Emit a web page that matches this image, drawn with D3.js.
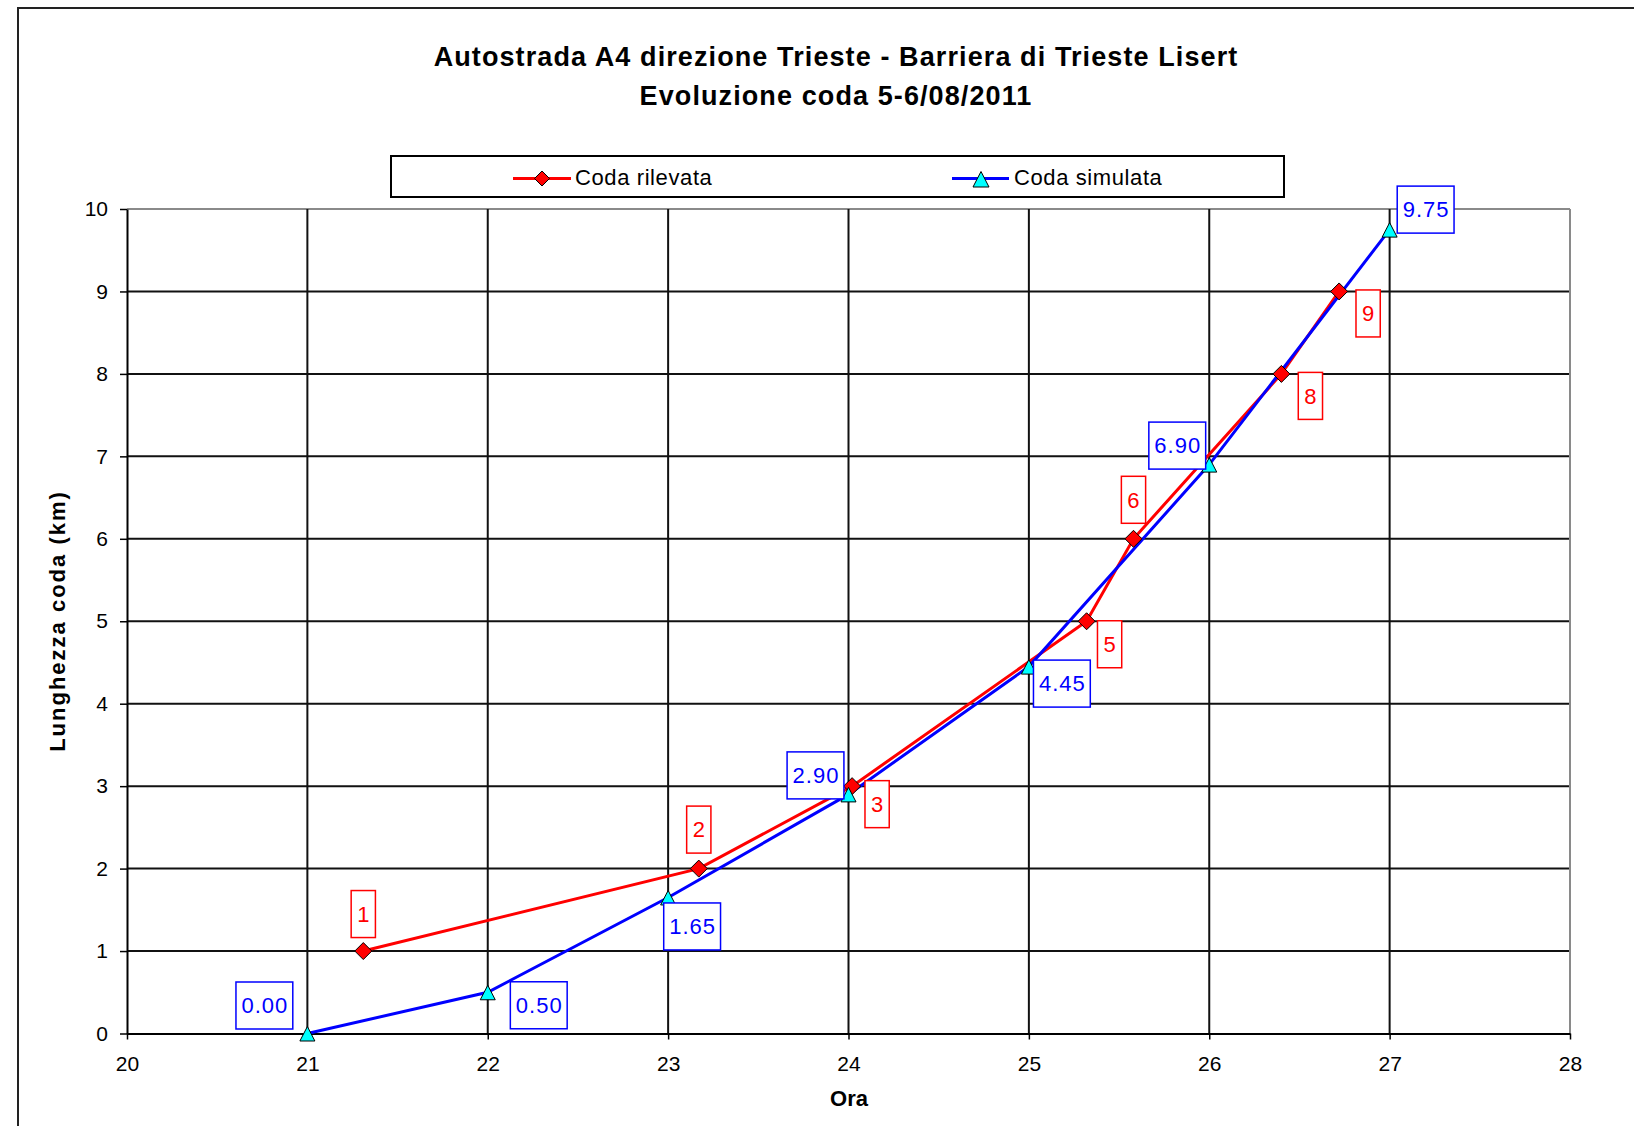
<!DOCTYPE html>
<html><head><meta charset="utf-8">
<script src="https://cdn.jsdelivr.net/npm/d3@7"></script>
<style>
html,body{margin:0;padding:0;background:#fff;}
svg{display:block;font-family:"Liberation Sans",Arial,sans-serif;}
</style>
</head><body>
<svg id="chart" width="1634" height="1126"></svg>
<script>
// ---- data ----
const titleLines = ["Autostrada A4 direzione Trieste - Barriera di Trieste Lisert", "Evoluzione coda 5-6/08/2011"];
const seriesNames = ["Coda rilevata", "Coda simulata"];
const rilevataHour = [21.31, 23.17, 24.02, 25.32, 25.58, 26.40, 26.72];
const rilevataKm = [1, 2, 3, 5, 6, 8, 9];
const rilevataLabels = ["1", "2", "3", "5", "6", "8", "9"];
const simulataHour = [21, 22, 23, 24, 25, 26, 27];
const simulataKm = [0, 0.5, 1.65, 2.9, 4.45, 6.9, 9.75];
const simulataLabels = ["0.00", "0.50", "1.65", "2.90", "4.45", "6.90", "9.75"];
const xTicks = [20, 21, 22, 23, 24, 25, 26, 27, 28];
const yTicks = [0, 1, 2, 3, 4, 5, 6, 7, 8, 9, 10];
const xTitle = "Ora";
const yTitle = "Lunghezza coda (km)";

// ---- layout (label box offsets from their point, in px) ----
const rilevataLabelOffsets = [[0,-37],[0,-39],[25,18],[23,23],[0,-39],[29,22],[29,22]];
const simulataLabelOffsets = [[-43,-28],[51,13],[24,29],[-33,-19],[33,17],[-32,-19],[36,-20]];

const svg = d3.select("#chart");
const x = d3.scaleLinear().domain([20, 28]).range([127, 1570]);
const y = d3.scaleLinear().domain([0, 10]).range([1033.5, 209]);
const RED = "#ff0000", BLUE = "#0000ff", CYAN = "#00ffff";

svg.append("rect").attr("width",1634).attr("height",1126).attr("fill","#fff");

// frame
svg.append("path").attr("d","M18,1126L18,8L1634,8").attr("fill","none").attr("stroke","#222").attr("stroke-width",2);

// titles
svg.append("g").selectAll("text").data(titleLines).join("text")
  .attr("x", 836).attr("y", (d,i) => 65.5 + i*39)
  .attr("text-anchor","middle").attr("font-weight","bold").attr("font-size",27)
  .attr("letter-spacing","1.1px").attr("fill","#000").text(d => d);

// grid
const grid = svg.append("g");
grid.selectAll("line.h").data(yTicks.filter(v => v > 0)).join("line")
  .attr("x1", x(20)).attr("x2", x(28)).attr("y1", d => y(d)).attr("y2", d => y(d))
  .attr("stroke", d => d === 10 ? "#8a8a8a" : "#111").attr("stroke-width", 2);
grid.selectAll("line.v").data(xTicks.filter(v => v > 20)).join("line")
  .attr("y1", y(0)).attr("y2", y(10)).attr("x1", d => x(d)).attr("x2", d => x(d))
  .attr("stroke", d => d === 28 ? "#8a8a8a" : "#111").attr("stroke-width", 2);

// axes
const yAxis = svg.append("g").attr("transform", `translate(${x(20)},0)`)
  .call(d3.axisLeft(y).tickValues(yTicks).tickSize(7).tickSizeOuter(0).tickPadding(12).tickFormat(d3.format("d")));
const xAxis = svg.append("g").attr("transform", `translate(0,${y(0)})`)
  .call(d3.axisBottom(x).tickValues(xTicks).tickSize(6).tickSizeOuter(0).tickPadding(17).tickFormat(d3.format("d")));
[yAxis, xAxis].forEach(g => {
  g.select(".domain").attr("stroke","#000").attr("stroke-width",2);
  g.selectAll(".tick line").attr("stroke","#000").attr("stroke-width",1.5);
  g.selectAll(".tick text").attr("font-size",21).attr("fill","#000")
    .attr("font-family",'"Liberation Sans",Arial,sans-serif');
});

// axis titles
svg.append("text").attr("x", 849).attr("y", 1106).attr("text-anchor","middle")
  .attr("font-weight","bold").attr("font-size",22).attr("fill","#000").text(xTitle);
svg.append("text").attr("transform","translate(57,621) rotate(-90)").attr("dy","0.35em")
  .attr("text-anchor","middle").attr("font-weight","bold").attr("font-size",22)
  .attr("letter-spacing","2px").attr("fill","#000").text(yTitle);

// series
const red = rilevataHour.map((h,i) => ({x:h, y:rilevataKm[i], label:rilevataLabels[i], off:rilevataLabelOffsets[i]}));
const blue = simulataHour.map((h,i) => ({x:h, y:simulataKm[i], label:simulataLabels[i], off:simulataLabelOffsets[i]}));
const line = d3.line().x(d => x(d.x)).y(d => y(d.y));
svg.append("path").datum(red).attr("d", line).attr("fill","none").attr("stroke",RED).attr("stroke-width",3);
svg.append("path").datum(blue).attr("d", line).attr("fill","none").attr("stroke",BLUE).attr("stroke-width",3);

const diamond = s => `M0,${-s}L${s},0L0,${s}L${-s},0Z`;
const tri = (w,t,b) => `M0,${-t}L${w},${b}L${-w},${b}Z`;
svg.append("g").selectAll("path").data(red).join("path")
  .attr("transform", d => `translate(${x(d.x)},${y(d.y)})`).attr("d", diamond(8.5))
  .attr("fill", RED).attr("stroke","#000").attr("stroke-width",1);
svg.append("g").selectAll("path").data(blue).join("path")
  .attr("transform", d => `translate(${x(d.x)},${y(d.y)})`).attr("d", tri(7.5,7,7.5))
  .attr("fill", CYAN).attr("stroke","#000").attr("stroke-width",1);

// data labels
function drawLabels(data, color, pad) {
  const g = svg.append("g").selectAll("g").data(data).join("g")
    .attr("transform", d => `translate(${x(d.x)+d.off[0]},${y(d.y)+d.off[1]})`);
  const rects = g.append("rect").attr("fill","#fff").attr("stroke",color).attr("stroke-width",1.5);
  const texts = g.append("text").attr("text-anchor","middle").attr("dy","0.35em")
    .attr("font-size",22).attr("letter-spacing","1px").attr("fill",color).text(d => d.label);
  texts.each(function(d){
    const w = this.getComputedTextLength() + pad*2;
    d3.select(this.parentNode).select("rect").attr("x", -w/2).attr("y", -23.5).attr("width", w).attr("height", 47);
    d3.select(this).attr("dx", "0.5px");
  });
}
drawLabels(red, RED, 5.5);
drawLabels(blue, BLUE, 5);

// legend
const lg = svg.append("g");
lg.append("rect").attr("x",391).attr("y",156).attr("width",893).attr("height",41)
  .attr("fill","#fff").attr("stroke","#000").attr("stroke-width",2);
lg.append("line").attr("x1",513).attr("x2",571).attr("y1",178.5).attr("y2",178.5).attr("stroke",RED).attr("stroke-width",3);
lg.append("path").attr("transform","translate(542,178.5)").attr("d",diamond(7.5)).attr("fill",RED).attr("stroke","#000").attr("stroke-width",1);
lg.append("text").attr("x",575).attr("y",184.5).attr("font-size",22).attr("letter-spacing","0.6px").attr("fill","#000").text(seriesNames[0]);
lg.append("line").attr("x1",952).attr("x2",1009).attr("y1",178.5).attr("y2",178.5).attr("stroke",BLUE).attr("stroke-width",3);
lg.append("path").attr("transform","translate(981,179.5)").attr("d",tri(8,8,7.5)).attr("fill",CYAN).attr("stroke","#000").attr("stroke-width",1);
lg.append("text").attr("x",1014).attr("y",184.5).attr("font-size",22).attr("letter-spacing","0.6px").attr("fill","#000").text(seriesNames[1]);
</script>
</body></html>
